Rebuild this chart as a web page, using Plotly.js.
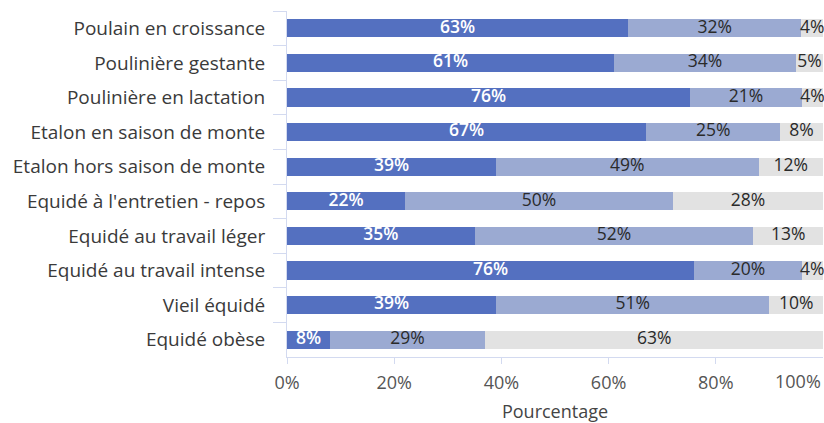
<!DOCTYPE html>
<html>
<head>
<meta charset="utf-8">
<script src="https://cdn.plot.ly/plotly-3.0.1.min.js"></script>
<style>html,body{margin:0;padding:0;background:#fff}#chart{width:824px;height:423px}</style>
</head>
<body>
<div id="chart"></div>
<script>
const categories = [
  "Poulain en croissance",
  "Poulinière gestante",
  "Poulinière en lactation",
  "Etalon en saison de monte",
  "Etalon hors saison de monte",
  "Equidé à l'entretien - repos",
  "Equidé au travail léger",
  "Equidé au travail intense",
  "Vieil équidé",
  "Equidé obèse"
];
const serieA = [63, 61, 76, 67, 39, 22, 35, 76, 39, 8];
const serieB = [32, 34, 21, 25, 49, 50, 52, 20, 51, 29];
const serieC = [4, 5, 4, 8, 12, 28, 13, 4, 10, 63];
const tickVals = [0, 20, 40, 60, 80];
const tickText = ["0%", "20%", "40%", "60%", "80%"];
const lastTick = "100%";

const fontFam = "Open Sans, Noto Sans, sans-serif";
const colors = ['#5470c0', '#9baad2', '#e2e2e2'];
const series = [serieA, serieB, serieC];

function bar(vals, color) {
  return {
    type: 'bar', orientation: 'h',
    y: categories, x: vals,
    marker: {color: color, line: {width: 0}},
    hoverinfo: 'skip'
  };
}
const totals = categories.map((_, i) => serieA[i] + serieB[i] + serieC[i]);
const normed = series.map(s => s.map((v, i) => v / totals[i] * 100));
function mids(k) {
  return categories.map((_, i) => {
    let start = 0;
    for (let j = 0; j < k; j++) start += normed[j][i];
    return start + normed[k][i] / 2;
  });
}
function labels(k, color, weight) {
  return {
    type: 'scatter', mode: 'text',
    x: mids(k), y: categories,
    text: series[k].map(v => v + '%'),
    textposition: 'middle center',
    textfont: {color: color, size: 17.5, family: fontFam, weight: weight},
    cliponaxis: false, hoverinfo: 'skip'
  };
}
const data = [
  bar(serieA, colors[0]), bar(serieB, colors[1]), bar(serieC, colors[2]),
  labels(0, '#ffffff', 600), labels(1, '#2a2a2a', 400), labels(2, '#2a2a2a', 400)
];
const layout = {
  width: 824, height: 423,
  margin: {l: 287, r: 1, t: 11, b: 66, pad: 0},
  barmode: 'stack',
  barnorm: 'percent',
  bargap: 0.47,
  showlegend: false,
  paper_bgcolor: '#fff', plot_bgcolor: '#fff',
  font: {family: fontFam, color: '#444', size: 16},
  xaxis: {
    range: [0, 100], fixedrange: true,
    tickvals: tickVals, ticktext: tickText,
    ticks: 'outside', ticklen: 6, tickcolor: '#d3daf0', tickwidth: 1,
    showline: true, linecolor: '#d3daf0', linewidth: 1,
    showgrid: false, zeroline: false,
    ticklabelstandoff: 3,
    tickfont: {size: 18, color: '#555', family: fontFam},
    title: {text: 'Pourcentage', font: {size: 18, color: '#444', family: fontFam}, standoff: 14}
  },
  yaxis: {
    autorange: 'reversed', fixedrange: true,
    ticks: 'outside', tickson: 'boundaries', ticklen: 13, tickcolor: '#d3daf0', tickwidth: 1,
    showline: true, linecolor: '#d3daf0', linewidth: 1,
    showgrid: false, zeroline: false,
    ticklabelstandoff: 17,
    tickfont: {size: 19, color: '#3a3a3a', family: fontFam}
  },
  annotations: [{
    x: 100, xref: 'x', y: 0, yref: 'paper', yshift: -10,
    text: lastTick, showarrow: false, xanchor: 'right', yanchor: 'top',
    font: {size: 18, color: '#555', family: fontFam}
  }]
};
Plotly.newPlot('chart', data, layout, {displayModeBar: false, staticPlot: true});
</script>
</body>
</html>
